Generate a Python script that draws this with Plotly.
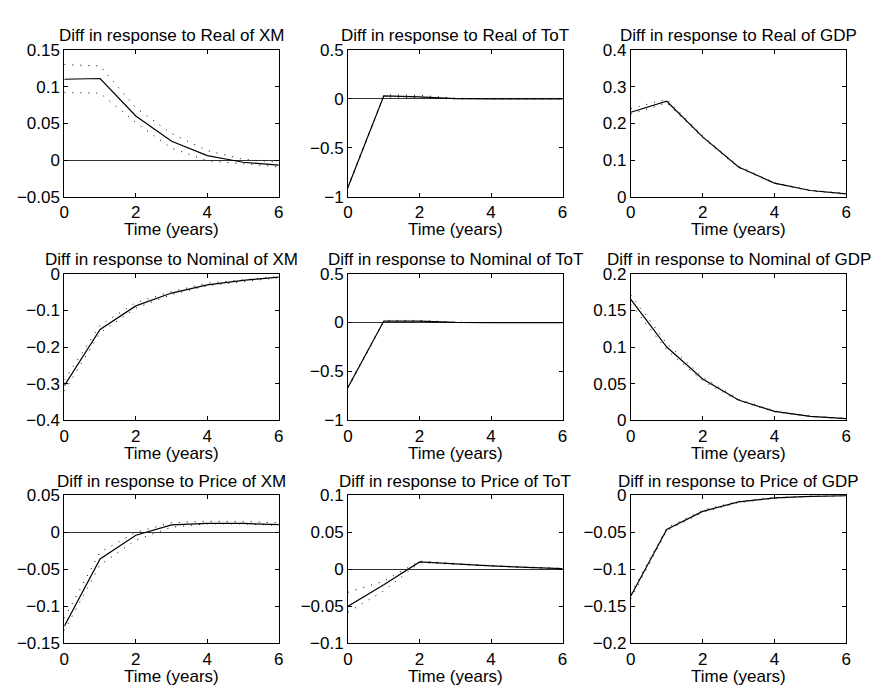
import plotly.graph_objects as go

W, H = 880, 697

years = [0, 1, 2, 3, 4, 5, 6]

titles = [
    "Diff in response to Real of XM", "Diff in response to Real of ToT", "Diff in response to Real of GDP",
    "Diff in response to Nominal of XM", "Diff in response to Nominal of ToT", "Diff in response to Nominal of GDP",
    "Diff in response to Price of XM", "Diff in response to Price of ToT", "Diff in response to Price of GDP",
]

# central responses
real_xm = [0.110, 0.111, 0.060, 0.0255, 0.006, -0.003, -0.007]
real_tot = [-0.90, 0.030, 0.020, 0.002, 0.0, 0.0, 0.0]
real_gdp = [0.230, 0.260, 0.163, 0.081, 0.037, 0.017, 0.008]
nom_xm = [-0.305, -0.152, -0.088, -0.053, -0.031, -0.0185, -0.0097]
nom_tot = [-0.66, 0.015, 0.015, 0.002, 0.0, 0.0, 0.0]
nom_gdp = [0.165, 0.100, 0.0565, 0.0278, 0.0124, 0.0057, 0.0026]
price_xm = [-0.127, -0.036, -0.004, 0.010, 0.012, 0.012, 0.0105]
price_tot = [-0.050, -0.021, 0.010, 0.007, 0.0045, 0.0026, 0.001]
price_gdp = [-0.136, -0.046, -0.0216, -0.0088, -0.0035, -0.0013, -0.0004]

# upper bands
real_xm_hi = [0.130, 0.128, 0.071, 0.036, 0.0127, 0.001, -0.003]
real_tot_hi = [-0.89, 0.040, 0.035, 0.006, 0.0, 0.0, 0.0]
real_gdp_hi = [0.240, 0.266, 0.166, 0.083, 0.038, 0.018, 0.009]
nom_xm_hi = [-0.290, -0.141, -0.079, -0.049, -0.026, -0.016, -0.008]
nom_tot_hi = [-0.65, 0.022, 0.022, 0.004, 0.0, 0.0, 0.0]
nom_gdp_hi = [0.171, 0.105, 0.059, 0.029, 0.013, 0.006, 0.003]
price_xm_hi = [-0.116, -0.027, 0.000, 0.013, 0.015, 0.0147, 0.013]
price_tot_hi = [-0.031, -0.016, 0.011, 0.0075, 0.005, 0.003, 0.0012]
price_gdp_hi = [-0.133, -0.044, -0.020, -0.008, -0.003, -0.001, -0.0003]

# lower bands
real_xm_lo = [0.092, 0.091, 0.051, 0.016, -0.001, -0.005, -0.0093]
real_tot_lo = [-0.91, 0.020, 0.012, 0.0, 0.0, 0.0, 0.0]
real_gdp_lo = [0.225, 0.256, 0.160, 0.079, 0.036, 0.016, 0.007]
nom_xm_lo = [-0.320, -0.161, -0.094, -0.057, -0.033, -0.021, -0.011]
nom_tot_lo = [-0.67, 0.010, 0.010, 0.0, 0.0, 0.0, 0.0]
nom_gdp_lo = [0.158, 0.096, 0.054, 0.027, 0.0118, 0.0053, 0.0022]
price_xm_lo = [-0.133, -0.044, -0.0105, 0.007, 0.0115, 0.0115, 0.0095]
price_tot_lo = [-0.058, -0.029, 0.009, 0.0065, 0.004, 0.0022, 0.0008]
price_gdp_lo = [-0.140, -0.048, -0.023, -0.0095, -0.004, -0.0016, -0.0005]

mains = [real_xm, real_tot, real_gdp, nom_xm, nom_tot, nom_gdp, price_xm, price_tot, price_gdp]
highs = [real_xm_hi, real_tot_hi, real_gdp_hi, nom_xm_hi, nom_tot_hi, nom_gdp_hi, price_xm_hi, price_tot_hi, price_gdp_hi]
lows = [real_xm_lo, real_tot_lo, real_gdp_lo, nom_xm_lo, nom_tot_lo, nom_gdp_lo, price_xm_lo, price_tot_lo, price_gdp_lo]

y_ranges = [
    [-0.05, 0.15], [-1, 0.5], [0, 0.4],
    [-0.4, 0], [-1, 0.5], [0, 0.2],
    [-0.15, 0.05], [-0.1, 0.1], [-0.2, 0],
]
y_tickvals = [
    [-0.05, 0, 0.05, 0.1, 0.15], [-1, -0.5, 0, 0.5], [0, 0.1, 0.2, 0.3, 0.4],
    [-0.4, -0.3, -0.2, -0.1, 0], [-1, -0.5, 0, 0.5], [0, 0.05, 0.1, 0.15, 0.2],
    [-0.15, -0.1, -0.05, 0, 0.05], [-0.1, -0.05, 0, 0.05, 0.1], [-0.2, -0.15, -0.1, -0.05, 0],
]
y_ticktext = [
    ["\u22120.05", "0", "0.05", "0.1", "0.15"], ["\u22121", "\u22120.5", "0", "0.5"], ["0", "0.1", "0.2", "0.3", "0.4"],
    ["\u22120.4", "\u22120.3", "\u22120.2", "\u22120.1", "0"], ["\u22121", "\u22120.5", "0", "0.5"], ["0", "0.05", "0.1", "0.15", "0.2"],
    ["\u22120.15", "\u22120.1", "\u22120.05", "0", "0.05"], ["\u22120.1", "\u22120.05", "0", "0.05", "0.1"], ["\u22120.2", "\u22120.15", "\u22120.1", "\u22120.05", "0"],
]
x_tickvals = [0, 2, 4, 6]
x_ticktext = ["0", "2", "4", "6"]
x_label = "Time (years)"

col_px = [(60, 277), (347, 564), (633, 851)]
row_px = [(42, 193), (272, 423), (500, 652)]

FONT = "Liberation Sans, Arial, Helvetica, sans-serif"
fig = go.Figure()
layout = dict(
    width=W, height=H, margin=dict(l=0, r=0, t=0, b=0),
    paper_bgcolor="white", plot_bgcolor="white", showlegend=False,
    font=dict(family=FONT, size=17, color="black"),
)
annotations = []
for i in range(9):
    r, c = divmod(i, 3)
    k = "" if i == 0 else str(i + 1)
    xd = [col_px[c][0] / W, col_px[c][1] / W]
    yd = [1 - row_px[r][1] / H, 1 - row_px[r][0] / H]
    axis_common = dict(showline=True, linecolor="black", linewidth=1, mirror="ticks",
                       ticks="inside", ticklen=4, tickcolor="black", showgrid=False,
                       tickfont=dict(family=FONT, size=17, color="black"))
    layout["xaxis" + k] = dict(domain=xd, range=[0, 6], anchor="y" + k, tickvals=x_tickvals,
                               ticktext=x_ticktext, zeroline=False, **axis_common)
    layout["yaxis" + k] = dict(domain=yd, range=y_ranges[i], anchor="x" + k, tickvals=y_tickvals[i],
                               ticktext=y_ticktext[i], zeroline=True, zerolinecolor="#333333",
                               zerolinewidth=1, **axis_common)
    xa, ya = "x" + k, "y" + k
    for band in (highs[i], lows[i]):
        fig.add_trace(go.Scatter(x=years, y=band, mode="lines", xaxis=xa, yaxis=ya,
                                 line=dict(color="black", width=1, dash="1px,7px"),
                                 hoverinfo="skip"))
    fig.add_trace(go.Scatter(x=years, y=mains[i], mode="lines", xaxis=xa, yaxis=ya,
                             line=dict(color="black", width=1.2)))
    xc = (xd[0] + xd[1]) / 2
    annotations.append(dict(text=titles[i], x=xc, y=yd[1], xref="paper", yref="paper",
                            xanchor="center", yanchor="middle", yshift=14, showarrow=False,
                            font=dict(family=FONT, size=17, color="black")))
    annotations.append(dict(text=x_label, x=xc, y=yd[0], xref="paper", yref="paper",
                            xanchor="center", yanchor="middle", yshift=-33, showarrow=False,
                            font=dict(family=FONT, size=17, color="black")))
layout["annotations"] = annotations
fig.update_layout(**layout)
fig.write_html("out.html")
